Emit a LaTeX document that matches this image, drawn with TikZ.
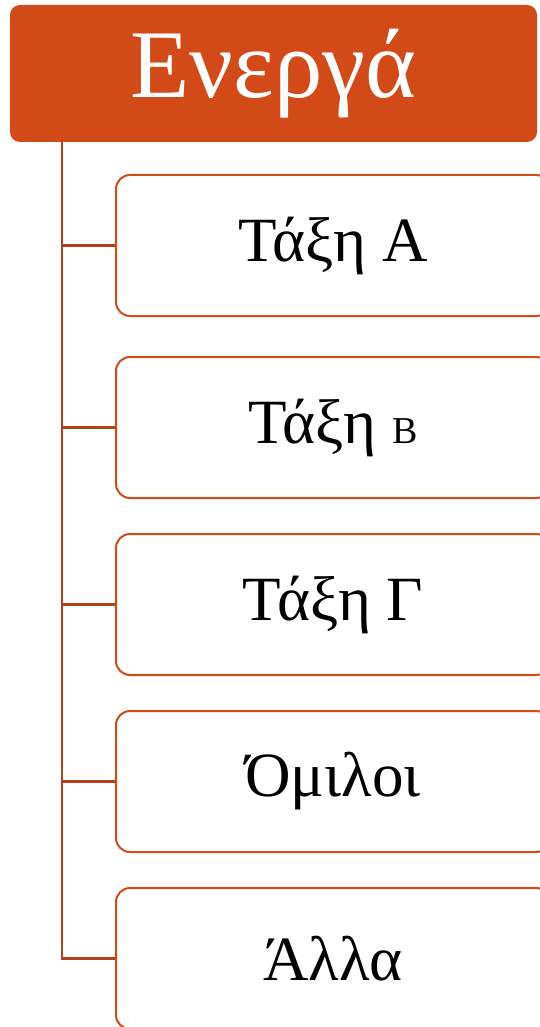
\documentclass[tikz,border=0pt]{standalone}
\usepackage{fontspec}
\setmainfont{Liberation Serif}
\definecolor{hdr}{HTML}{D24A18}
\definecolor{conn}{HTML}{B0401C}
\tikzset{
  hdrbox/.style={fill=hdr, draw=none, rounded corners=10pt, minimum width=527pt, minimum height=137pt, inner sep=0pt, text=white, font=\fontsize{97}{97}\selectfont},
  childbox/.style={draw=hdr, line width=2pt, fill=white, rounded corners=14pt, minimum width=434pt, minimum height=141pt, inner sep=0pt, text=black, font=\fontsize{63}{63}\selectfont},
  connline/.style={draw=conn, line width=2.4pt}
}
\begin{document}
\begin{tikzpicture}[x=1pt,y=-1pt]
\useasboundingbox (0,0) rectangle (539,1027);
\node[hdrbox] (h) at (273.5,73.5) {\raisebox{-3pt}{Ενεργά}};
\node[childbox] (c1) at (333,245.5) {Τάξη Α};
\node[childbox] (c2) at (333,427.5) {Τάξη {\fontsize{38}{38}\selectfont Β}};
\node[childbox] (c3) at (333,604.5) {Τάξη Γ};
\node[childbox] (c4) at (333,781.5) {Όμιλοι};
\node[childbox] (c5) at (333,958.5) {Άλλα};
\coordinate (t) at (62,142);
\draw[connline] (t) |- (c5.west);
\foreach \c in {c1,c2,c3,c4} \draw[connline] (t |- \c.west) -- (\c.west);
\end{tikzpicture}
\end{document}
